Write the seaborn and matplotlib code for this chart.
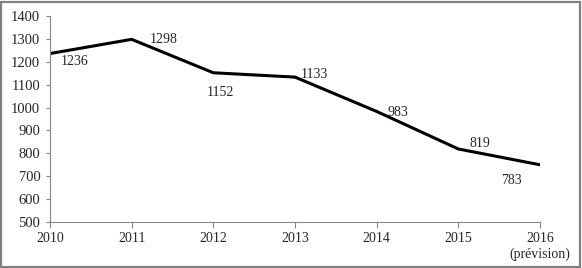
import matplotlib
matplotlib.use("Agg")
import matplotlib.pyplot as plt
import seaborn as sns
import pandas as pd
from matplotlib.patches import Rectangle

years = ["2010", "2011", "2012", "2013", "2014", "2015", "2016\n(prévision)"]
values = [1236, 1298, 1152, 1133, 983, 819, 750]
labels = ["1236", "1298", "1152", "1133", "983", "819", "783"]

sns.set_theme(style="white")
plt.rcParams['font.family'] = ['Liberation Serif', 'DejaVu Serif']

df = pd.DataFrame({"idx": range(len(years)), "value": values})

fig = plt.figure(figsize=(5.82, 2.68), dpi=100)
ax = fig.add_axes([50/582, 1 - 222/268, 490/582, 206/268])
sns.lineplot(data=df, x="idx", y="value", ax=ax, color="black", linewidth=2.2)

ax.set_xlim(0, 6)
ax.set_ylim(500, 1400)
ax.set_yticks(range(500, 1401, 100))
ax.set_xticks(range(len(years)))
ax.set_xticklabels(years, fontsize=10, linespacing=1.25)
ax.tick_params(axis='y', labelsize=10.5, direction='out', length=3, width=0.8, color='#888888', left=True, pad=4)
ax.tick_params(axis='x', labelsize=10, direction='out', length=4, width=0.8, color='#888888', bottom=True, pad=3.5)
ax.set_xlabel("")
ax.set_ylabel("")
for s in ["top", "right"]:
    ax.spines[s].set_visible(False)
for s in ["left", "bottom"]:
    ax.spines[s].set_color("#888888")
    ax.spines[s].set_linewidth(0.8)

offsets = [(8, -6), (13, 0), (-5, -14), (4, 2), (8, -1), (8, 4), (-28, -11)]
for i, (v, lab) in enumerate(zip(values, labels)):
    ax.annotate(lab, (i, v), xytext=offsets[i], textcoords="offset points",
                fontsize=10, ha="left", va="center")

fig.patches.append(Rectangle((1/582, 1/268), 579/582, 265/268, transform=fig.transFigure,
                             fill=False, edgecolor="#808080", linewidth=1.6))

fig.savefig("out.png", dpi=100)
